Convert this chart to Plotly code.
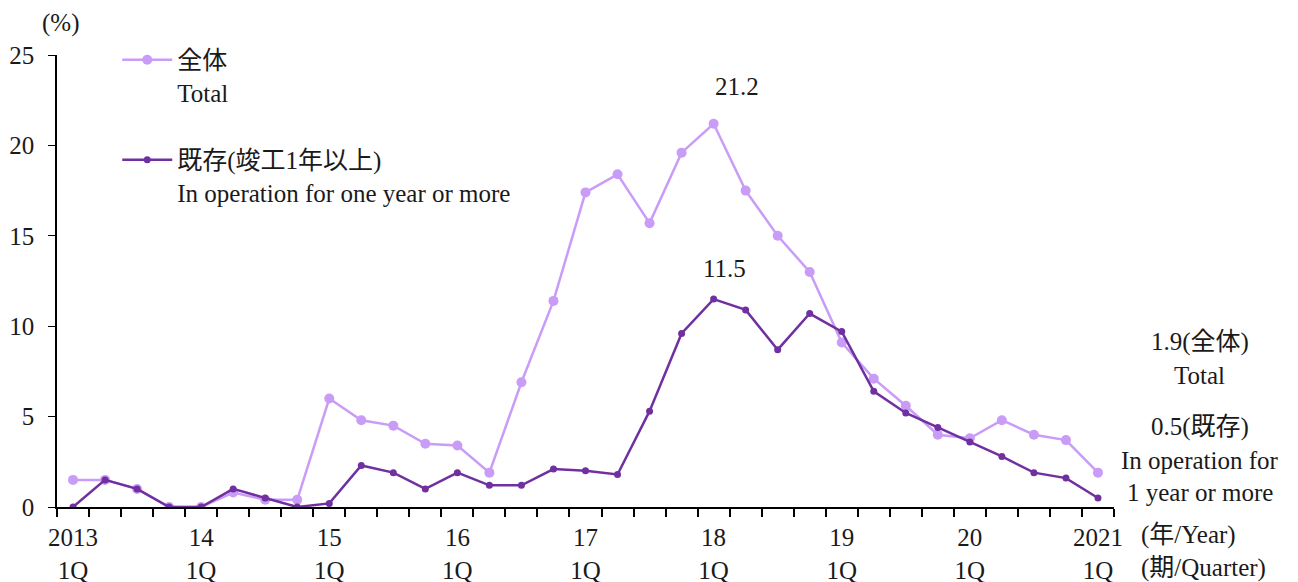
import plotly.graph_objects as go

# ---- data ----
quarters = ["2013Q1","2013Q2","2013Q3","2013Q4","2014Q1","2014Q2","2014Q3","2014Q4",
            "2015Q1","2015Q2","2015Q3","2015Q4","2016Q1","2016Q2","2016Q3","2016Q4",
            "2017Q1","2017Q2","2017Q3","2017Q4","2018Q1","2018Q2","2018Q3","2018Q4",
            "2019Q1","2019Q2","2019Q3","2019Q4","2020Q1","2020Q2","2020Q3","2020Q4",
            "2021Q1"]
total = [1.5, 1.5, 1.0, 0.0, 0.0, 0.8, 0.4, 0.4,
         6.0, 4.8, 4.5, 3.5, 3.4, 1.9, 6.9, 11.4,
         17.4, 18.4, 15.7, 19.6, 21.2, 17.5, 15.0, 13.0,
         9.1, 7.1, 5.6, 4.0, 3.8, 4.8, 4.0, 3.7,
         1.9]
existing = [0.0, 1.5, 1.0, 0.0, 0.0, 1.0, 0.5, 0.0,
            0.2, 2.3, 1.9, 1.0, 1.9, 1.2, 1.2, 2.1,
            2.0, 1.8, 5.3, 9.6, 11.5, 10.9, 8.7, 10.7,
            9.7, 6.4, 5.2, 4.4, 3.6, 2.8, 1.9, 1.6,
            0.5]
year_labels = ["2013", "14", "15", "16", "17", "18", "19", "20", "2021"]
quarter_label = "1Q"

FONT = "Liberation Serif, 'Noto Sans CJK JP', serif"
FS = 25
LIGHT = "#c99cf7"
DARK = "#7030a0"
TXT = "#1a1a1a"

x = list(range(len(quarters)))
tickvals = [i for i in x if quarters[i].endswith("Q1")]
ticktext = [f"{y}<br>{quarter_label}" for y in year_labels]

fig = go.Figure()
fig.add_trace(go.Scatter(
    x=x, y=total, mode="lines+markers", name="全体<br>Total",
    line=dict(color=LIGHT, width=2.5), marker=dict(size=10, color=LIGHT),
    legendgroup="a"))
fig.add_trace(go.Scatter(
    x=x, y=existing, mode="lines+markers", name="既存(竣工1年以上)<br>In operation for one year or more",
    line=dict(color=DARK, width=2.5), marker=dict(size=7, color=DARK),
    legendgroup="b"))

imax_t = total.index(max(total))
imax_e = existing.index(max(existing))


def txt(**kw):
    d = dict(showarrow=False, xanchor="center", yanchor="middle",
             font=dict(size=FS, family=FONT, color=TXT))
    d.update(kw)
    return d


annotations = [
    txt(xref="x", yref="y", x=imax_t, y=total[imax_t], text=f"{total[imax_t]:.1f}",
        yshift=37, xshift=23),
    txt(xref="x", yref="y", x=imax_e, y=existing[imax_e], text=f"{existing[imax_e]:.1f}",
        yshift=31, xshift=11),
    txt(xref="paper", yref="paper", x=1.081, y=0.365, text=f"{total[-1]:.1f}(全体)"),
    txt(xref="paper", yref="paper", x=1.081, y=0.290, text="Total"),
    txt(xref="paper", yref="paper", x=1.081, y=0.177, text=f"{existing[-1]:.1f}(既存)"),
    txt(xref="paper", yref="paper", x=1.081, y=0.102, text="In operation for"),
    txt(xref="paper", yref="paper", x=1.081, y=0.033, text="1 year or more"),
    txt(xref="paper", yref="paper", x=1.024, y=-0.062, xanchor="left", text="(年/Year)"),
    txt(xref="paper", yref="paper", x=1.024, y=-0.135, xanchor="left", text="(期/Quarter)"),
    txt(xref="paper", yref="paper", x=-0.016, y=1.07, xanchor="left", text="(%)"),
]

fig.update_layout(
    width=1298, height=582,
    margin=dict(l=49, r=192, t=47, b=83),
    paper_bgcolor="white", plot_bgcolor="white",
    font=dict(family=FONT, size=FS, color=TXT),
    showlegend=True,
    legend=dict(x=0.057, y=1.04, xanchor="left", yanchor="top",
                bgcolor="rgba(0,0,0,0)", font=dict(size=FS, family=FONT, color=TXT),
                tracegroupgap=32, traceorder="grouped", valign="top", itemwidth=50),
    annotations=annotations,
    xaxis=dict(range=[-0.5, 32.5], tickvals=tickvals, ticktext=ticktext,
               ticks="", showgrid=False, zeroline=False, ticklabelstandoff=7,
               automargin=False,
               showline=True, linecolor="black", linewidth=2,
               tickfont=dict(size=FS, family=FONT, color=TXT),
               minor=dict(tickvals=[i - 0.5 for i in range(len(quarters) + 1)],
                          ticks="outside", ticklen=8, tickcolor="black", tickwidth=1.5,
                          showgrid=False)),
    yaxis=dict(range=[0, 25], dtick=5, ticks="outside", ticklen=7, tickcolor="black",
               showgrid=False, zeroline=False, showline=True, linecolor="black",
               linewidth=1.5, ticklabelstandoff=9, automargin=False,
               tickfont=dict(size=FS, family=FONT, color=TXT)),
)

fig.write_html("out.html")
